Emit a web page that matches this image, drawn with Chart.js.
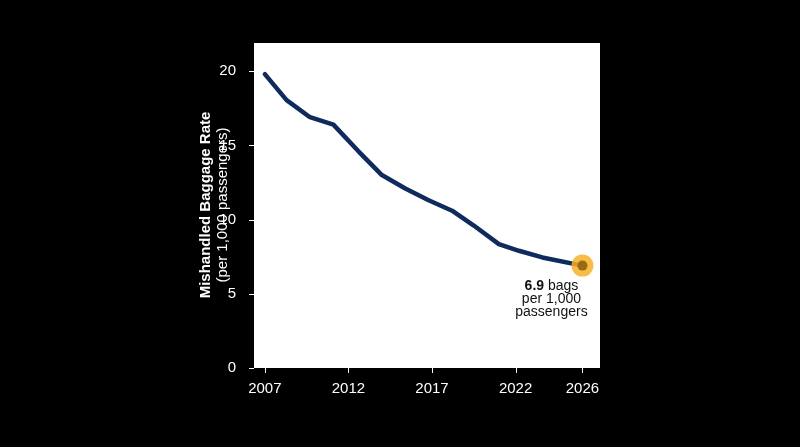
<!DOCTYPE html>
<html><head><meta charset="utf-8">
<script src="https://cdn.jsdelivr.net/npm/chart.js@4"></script>
<style>html,body{margin:0;background:#000;}#w{width:800px;height:447px;}</style>
</head><body><div id="w"><canvas id="c"></canvas></div>
<script>
const years = [2007, 2008.3, 2009.7, 2011.1, 2012.6, 2014.0, 2015.4, 2016.8, 2018.2, 2019.5, 2021.0, 2022.2, 2023.6, 2026];
const rates = [19.8, 18.05, 16.9, 16.4, 14.6, 13.0, 12.1, 11.3, 10.6, 9.6, 8.35, 7.9, 7.45, 6.9];
const xTicks = [2007, 2012, 2017, 2022, 2026];
const yTicks = [0, 5, 10, 15, 20];
const FONT = '"Liberation Sans", Arial, sans-serif';

const deco = {
  id: 'deco',
  beforeDatasetsDraw(ch) {
    const a = ch.chartArea, c = ch.ctx;
    c.save(); c.fillStyle = '#fff'; c.fillRect(a.left, a.top, a.right - a.left, a.bottom - a.top); c.restore();
  },
  afterDraw(ch) {
    const c = ch.ctx, a = ch.chartArea, x = ch.scales.x, y = ch.scales.y;
    c.save();
    c.strokeStyle = '#fff'; c.lineWidth = 1;
    yTicks.forEach(v => { const p = Math.round(y.getPixelForValue(v)) + 0.5; c.beginPath(); c.moveTo(a.left - 5, p); c.lineTo(a.left, p); c.stroke(); });
    xTicks.forEach(v => { const p = Math.round(x.getPixelForValue(v)) + 0.5; c.beginPath(); c.moveTo(p, a.bottom); c.lineTo(p, a.bottom + 5); c.stroke(); });
    // y title
    c.translate(214, 205); c.rotate(-Math.PI / 2);
    c.fillStyle = '#fff'; c.textAlign = 'center'; c.textBaseline = 'middle';
    c.font = 'bold 15px ' + FONT; c.fillText('Mishandled Baggage Rate', 0, -8);
    c.font = '15px ' + FONT; c.fillText('(per 1,000 passengers)', 0, 9);
    c.restore();
    // highlight last point
    const i = years.length - 1;
    const px = x.getPixelForValue(years[i]), py = y.getPixelForValue(rates[i]);
    c.save();
    c.fillStyle = 'rgba(247,178,40,0.85)'; c.beginPath(); c.arc(px, py, 11, 0, Math.PI * 2); c.fill();
    c.fillStyle = '#9a6a10'; c.beginPath(); c.arc(px, py, 5, 0, Math.PI * 2); c.fill();
    c.fillStyle = '#111'; c.textBaseline = 'alphabetic';
    c.font = 'bold 14px ' + FONT;
    const b = rates[i].toFixed(1), rest = ' bags';
    const wb = c.measureText(b).width; c.font = '14px ' + FONT; const wr = c.measureText(rest).width;
    const sx = px - 31 - (wb + wr) / 2 + 0;
    c.font = 'bold 14px ' + FONT; c.textAlign = 'left'; c.fillText(b, sx, py + 24);
    c.font = '14px ' + FONT; c.fillText(rest, sx + wb, py + 24);
    c.textAlign = 'center';
    c.fillText('per 1,000', px - 31, py + 37);
    c.fillText('passengers', px - 31, py + 50);
    c.restore();
  }
};

new Chart(document.getElementById('c'), {
  type: 'line',
  data: { datasets: [{ data: years.map((v, k) => ({ x: v, y: rates[k] })), borderColor: '#0f2a5c', borderWidth: 4.5, pointRadius: 0, tension: 0, borderJoinStyle: 'round', borderCapStyle: 'round' }] },
  options: {
    responsive: true, maintainAspectRatio: false, animation: false,
    layout: { padding: { left: 0, right: 200, top: 43, bottom: 0 } },
    plugins: { legend: { display: false }, tooltip: { enabled: false } },
    scales: {
      x: {
        type: 'linear', min: 2006.35, max: 2027.05,
        afterBuildTicks: s => { s.ticks = xTicks.map(v => ({ value: v })); },
        afterFit: s => { s.height = 79; },
        grid: { display: false }, border: { display: false },
        ticks: { color: '#fff', font: { family: FONT, size: 15 }, padding: 4, maxRotation: 0, callback: v => String(v) }
      },
      y: {
        min: 0, max: 21.9,
        afterBuildTicks: s => { s.ticks = yTicks.map(v => ({ value: v })); },
        afterFit: s => { s.width = 254; },
        grid: { display: false }, border: { display: false },
        ticks: { color: '#fff', font: { family: FONT, size: 15 }, padding: 10 }
      }
    }
  },
  plugins: [deco]
});
</script></body></html>
